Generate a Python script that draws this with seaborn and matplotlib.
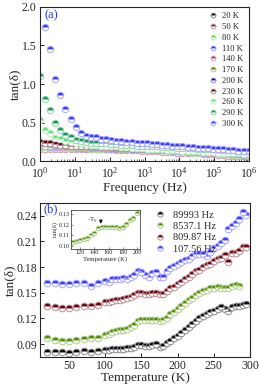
"""Dielectric loss tan(delta) vs frequency (a) and vs temperature (b)."""

import matplotlib

matplotlib.use("Agg")
import matplotlib.pyplot as plt
import matplotlib.colors as mcolors
from matplotlib.ticker import LogLocator, NullFormatter
import numpy as np
import seaborn as sns

# ---- panel (a): tan(delta) vs frequency at fixed temperatures ----
freq_hz = [1, 1.40, 1.96, 2.74, 3.84, 5.37, 7.52, 10.5, 14.7, 20.6, 28.8, 40.4,
           56.5, 79.1, 111, 155, 217, 303, 425, 594, 832, 1164, 1629, 2280,
           3192, 4467, 6252, 8750, 12246, 17140, 23988, 33574, 46989, 65766,
           92045, 128825, 180302, 252348, 353183, 494311, 691831, 968278]

temp_labels = ["20 K", "50 K", "80 K", "110 K", "140 K", "170 K",
               "200 K", "230 K", "260 K", "290 K", "300 K"]
temp_colors = ["#000000", "#8b1a2b", "#5fcf3f", "#2436e6", "#a0305a", "#4d7a00",
               "#0a0a9a", "#5a0010", "#66dd77", "#0f9a50", "#3a3aff"]

tan_20k = [0.17, 0.17, 0.17, 0.17, 0.17, 0.17, 0.17, 0.17, 0.17, 0.16, 0.16, 0.16,
           0.16, 0.16, 0.16, 0.15, 0.15, 0.15, 0.15, 0.15, 0.14, 0.14, 0.14, 0.14,
           0.13, 0.13, 0.13, 0.12, 0.12, 0.12, 0.11, 0.11, 0.10, 0.10, 0.10, 0.09,
           0.09, 0.08, 0.08, 0.08, 0.07, 0.07]
tan_50k = [0.16, 0.16, 0.16, 0.16, 0.16, 0.16, 0.16, 0.16, 0.16, 0.15, 0.15, 0.15,
           0.15, 0.15, 0.15, 0.14, 0.14, 0.14, 0.14, 0.14, 0.13, 0.13, 0.13, 0.13,
           0.12, 0.12, 0.12, 0.11, 0.11, 0.11, 0.10, 0.10, 0.09, 0.09, 0.09, 0.08,
           0.08, 0.07, 0.07, 0.07, 0.06, 0.06]
tan_80k = [0.18, 0.18, 0.17, 0.17, 0.17, 0.17, 0.17, 0.17, 0.17, 0.17, 0.16, 0.16,
           0.16, 0.16, 0.16, 0.16, 0.15, 0.15, 0.15, 0.15, 0.15, 0.14, 0.14, 0.14,
           0.14, 0.13, 0.13, 0.13, 0.12, 0.12, 0.11, 0.11, 0.11, 0.10, 0.10, 0.09,
           0.09, 0.09, 0.08, 0.08, 0.08, 0.07]
tan_110k = [0.19, 0.19, 0.18, 0.18, 0.18, 0.18, 0.18, 0.17, 0.17, 0.17, 0.17, 0.17,
            0.17, 0.16, 0.16, 0.16, 0.16, 0.16, 0.15, 0.15, 0.15, 0.15, 0.14, 0.14,
            0.14, 0.14, 0.13, 0.13, 0.13, 0.12, 0.12, 0.12, 0.11, 0.11, 0.10, 0.10,
            0.10, 0.09, 0.09, 0.09, 0.08, 0.08]
tan_140k = [0.20, 0.19, 0.19, 0.19, 0.18, 0.18, 0.18, 0.18, 0.18, 0.17, 0.17, 0.17,
            0.17, 0.17, 0.17, 0.16, 0.16, 0.16, 0.16, 0.16, 0.15, 0.15, 0.15, 0.15,
            0.14, 0.14, 0.14, 0.14, 0.13, 0.13, 0.13, 0.12, 0.12, 0.11, 0.11, 0.11,
            0.10, 0.10, 0.09, 0.09, 0.09, 0.08]
tan_170k = [0.21, 0.20, 0.20, 0.19, 0.19, 0.19, 0.18, 0.18, 0.18, 0.18, 0.18, 0.17,
            0.17, 0.17, 0.17, 0.17, 0.16, 0.16, 0.16, 0.16, 0.16, 0.15, 0.15, 0.15,
            0.15, 0.14, 0.14, 0.14, 0.14, 0.13, 0.13, 0.13, 0.12, 0.12, 0.12, 0.11,
            0.11, 0.10, 0.10, 0.10, 0.09, 0.09]
tan_200k = [0.23, 0.23, 0.22, 0.21, 0.21, 0.20, 0.20, 0.19, 0.19, 0.19, 0.18, 0.18,
            0.18, 0.18, 0.17, 0.17, 0.17, 0.17, 0.16, 0.16, 0.16, 0.16, 0.15, 0.15,
            0.15, 0.15, 0.14, 0.14, 0.14, 0.14, 0.13, 0.13, 0.13, 0.12, 0.12, 0.12,
            0.11, 0.11, 0.11, 0.10, 0.10, 0.09]
tan_230k = [0.25, 0.24, 0.23, 0.22, 0.21, 0.21, 0.20, 0.20, 0.20, 0.19, 0.19, 0.19,
            0.18, 0.18, 0.18, 0.18, 0.17, 0.17, 0.17, 0.17, 0.16, 0.16, 0.16, 0.16,
            0.15, 0.15, 0.15, 0.15, 0.14, 0.14, 0.14, 0.13, 0.13, 0.13, 0.12, 0.12,
            0.12, 0.11, 0.11, 0.11, 0.10, 0.10]
tan_260k = [0.53, 0.40, 0.36, 0.30, 0.28, 0.26, 0.25, 0.24, 0.23, 0.22, 0.21, 0.21,
            0.20, 0.20, 0.19, 0.19, 0.18, 0.18, 0.17, 0.17, 0.165, 0.16, 0.155, 0.15,
            0.15, 0.145, 0.14, 0.14, 0.135, 0.13, 0.13, 0.125, 0.12, 0.12, 0.115,
            0.11, 0.11, 0.105, 0.10, 0.10, 0.095, 0.09]
tan_290k = [1.10, 0.81, 0.66, 0.50, 0.40, 0.34, 0.31, 0.27, 0.26, 0.25, 0.24, 0.24,
            0.23, 0.23, 0.22, 0.22, 0.21, 0.21, 0.21, 0.20, 0.20, 0.195, 0.19, 0.19,
            0.185, 0.18, 0.18, 0.175, 0.17, 0.17, 0.165, 0.16, 0.16, 0.155, 0.15,
            0.15, 0.145, 0.14, 0.14, 0.135, 0.13, 0.13]
tan_300k = [2.30, 1.74, 1.46, 1.07, 0.86, 0.67, 0.54, 0.44, 0.37, 0.33, 0.31, 0.31,
            0.29, 0.28, 0.27, 0.26, 0.26, 0.25, 0.25, 0.24, 0.235, 0.23, 0.225, 0.22,
            0.21, 0.205, 0.20, 0.195, 0.19, 0.185, 0.18, 0.175, 0.17, 0.165, 0.16,
            0.155, 0.15, 0.145, 0.14, 0.135, 0.13, 0.125]

freq_series = [tan_20k, tan_50k, tan_80k, tan_110k, tan_140k, tan_170k,
               tan_200k, tan_230k, tan_260k, tan_290k, tan_300k]

# ---- panel (b): tan(delta) vs temperature at fixed frequencies ----
temp_k = [20, 30, 40, 50, 60, 70, 80, 90, 100, 105, 110, 115, 120, 125, 130, 135,
          140, 145, 150, 155, 160, 165, 170, 175, 180, 185, 190, 195, 200, 205,
          210, 215, 220, 225, 230, 235, 240, 245, 250, 255, 260, 265, 270, 275,
          280, 285, 290, 295]

freq_labels = ["89993 Hz", "8537.1 Hz", "809.87 Hz", "107.56 Hz"]
freq_colors = ["#000000", "#4d8f00", "#6a0010", "#3a3aff"]

tan_89993 = [0.081, 0.081, 0.081, 0.080, 0.081, 0.082, 0.081, 0.082, 0.083, 0.083,
             0.084, 0.084, 0.084, 0.084, 0.085, 0.086, 0.087, 0.089, 0.089, 0.088,
             0.088, 0.089, 0.090, 0.087, 0.088, 0.091, 0.094, 0.097, 0.100, 0.103,
             0.106, 0.110, 0.114, 0.117, 0.120, 0.123, 0.125, 0.127, 0.129, 0.131,
             0.133, 0.131, 0.129, 0.133, 0.134, 0.135, 0.136, 0.137]
tan_8537 = [0.097, 0.095, 0.094, 0.094, 0.095, 0.096, 0.097, 0.097, 0.101, 0.102,
            0.104, 0.105, 0.106, 0.107, 0.108, 0.110, 0.112, 0.117, 0.118, 0.118,
            0.118, 0.118, 0.118, 0.117, 0.118, 0.121, 0.125, 0.127, 0.131, 0.135,
            0.138, 0.141, 0.144, 0.147, 0.150, 0.152, 0.153, 0.155, 0.156, 0.157,
            0.156, 0.155, 0.156, 0.158, 0.159, 0.158, np.nan, np.nan]
tan_809 = [0.135, 0.133, 0.132, 0.132, 0.133, 0.134, 0.135, 0.136, 0.139, 0.139,
           0.140, 0.141, 0.142, 0.143, 0.144, 0.145, 0.147, 0.150, 0.150, 0.149,
           0.149, 0.150, 0.150, 0.149, 0.149, 0.152, 0.155, 0.157, 0.160, 0.163,
           0.166, 0.169, 0.172, 0.175, 0.177, 0.180, 0.182, 0.184, 0.187, 0.189,
           0.191, 0.194, 0.186, 0.196, 0.197, 0.199, 0.203, 0.203]
tan_107 = [0.161, 0.161, 0.160, 0.160, 0.161, 0.162, 0.158, 0.161, 0.164, 0.163,
           0.166, 0.166, 0.166, 0.167, 0.166, 0.168, 0.171, 0.176, 0.174, 0.171,
           0.169, 0.173, 0.174, 0.169, 0.168, 0.176, 0.179, 0.181, 0.184, 0.186,
           0.188, 0.190, 0.193, 0.195, 0.195, 0.195, 0.193, 0.198, 0.202, 0.205,
           0.208, 0.212, 0.225, 0.228, 0.232, 0.236, 0.244, 0.241]

temp_series = [tan_89993, tan_8537, tan_809, tan_107]


def light(color, amount=0.55):
    rgb = np.array(mcolors.to_rgb(color))
    return tuple(rgb + (1 - rgb) * amount)


def half_marker_kws(color, size):
    return dict(
        color=color,
        marker="o",
        linestyle="",
        markersize=size,
        fillstyle="top",
        markerfacecolor=color,
        markerfacecoloralt="white",
        markeredgecolor=light(color),
        markeredgewidth=0.7,
    )


sns.set_theme(style="ticks")
plt.rcParams["font.family"] = ["Liberation Serif", "DejaVu Serif"]
plt.rcParams["mathtext.fontset"] = "stix"
plt.rcParams["xtick.direction"] = "in"
plt.rcParams["ytick.direction"] = "in"

fig = plt.figure(figsize=(2.6, 3.88), dpi=100)
ax_a = fig.add_axes([0.154, 0.585, 0.804, 0.397])
ax_b = fig.add_axes([0.154, 0.080, 0.808, 0.397])

# panel (a)
ax_a.set_xscale("log")
for label, color, vals in zip(temp_labels, temp_colors, freq_series):
    sns.lineplot(x=freq_hz, y=vals, ax=ax_a, label=label, sort=False,
                 **half_marker_kws(color, 4.6))
ax_a.set_xlim(1, 1e6)
ax_a.set_ylim(0, 2.0)
ax_a.set_yticks([0.0, 0.5, 1.0, 1.5, 2.0])
ax_a.xaxis.set_major_locator(LogLocator(base=10, numticks=10))
ax_a.xaxis.set_minor_locator(LogLocator(base=10, subs=np.arange(2, 10), numticks=20))
ax_a.xaxis.set_minor_formatter(NullFormatter())
ax_a.set_xlabel("Frequency (Hz)", fontsize=9.5, labelpad=1)
ax_a.set_ylabel("tan(δ)", fontsize=9.5, labelpad=0.5)
ax_a.tick_params(labelsize=8.5, length=3, width=0.7, pad=2.5)
ax_a.tick_params(axis="x", pad=3.5)
ax_a.tick_params(which="minor", length=1.8, width=0.5)
ax_a.text(0.02, 0.985, "(a)", transform=ax_a.transAxes, color="#2436e6",
          fontsize=9, va="top", ha="left")
ax_a.legend(loc="upper right", frameon=False, fontsize=6.2, handlelength=1.0,
            handletextpad=0.6, labelspacing=0.32, borderaxespad=0.2,
            markerscale=0.75)

# panel (b)
for label, color, vals in zip(freq_labels, freq_colors, temp_series):
    sns.lineplot(x=temp_k, y=vals, ax=ax_b, label=label, sort=False,
                 **half_marker_kws(color, 4.8))
ax_b.set_xlim(10, 300)
ax_b.set_ylim(0.075, 0.255)
ax_b.set_xticks([50, 100, 150, 200, 250, 300])
ax_b.set_yticks([0.09, 0.12, 0.15, 0.18, 0.21, 0.24])
ax_b.set_xlabel("Temperature (K)", fontsize=9.5, labelpad=0.5)
ax_b.set_ylabel("tan(δ)", fontsize=9.5, labelpad=0.5)
ax_b.tick_params(labelsize=8.5, length=3, width=0.7, pad=2)
ax_b.text(0.015, 0.995, "(b)", transform=ax_b.transAxes, color="#2436e6",
          fontsize=9, va="top", ha="left")
ax_b.legend(loc="upper right", frameon=False, fontsize=7.5, handlelength=1.0,
            handletextpad=0.8, labelspacing=0.2, borderaxespad=0.3,
            markerscale=0.8, bbox_to_anchor=(0.875, 1.0))

# inset: zoom on the 8537.1 Hz curve around Tg
ax_in = fig.add_axes([0.273, 0.358, 0.265, 0.1])
sns.lineplot(x=temp_k, y=tan_8537, ax=ax_in, sort=False,
             **half_marker_kws(freq_colors[1], 3.2))
ax_in.set_xlim(107, 204)
ax_in.set_ylim(0.097, 0.134)
ax_in.set_xticks([120, 140, 160, 180, 200])
ax_in.set_yticks([0.10, 0.11, 0.12, 0.13])
ax_in.set_xlabel("Temperature (K)", fontsize=4.8, labelpad=0.5)
ax_in.set_ylabel("tan(δ)", fontsize=4.5, labelpad=0.5)
ax_in.tick_params(labelsize=4.5, length=1.5, width=0.4, pad=1)
for sp in ax_in.spines.values():
    sp.set_linewidth(0.5)
ax_in.annotate("", xy=(149, 0.1185), xytext=(149, 0.1262),
               arrowprops=dict(arrowstyle="-|>", color="black", lw=0.6,
                               mutation_scale=5))
ax_in.text(145, 0.1235, "-T$_g$", fontsize=5, ha="right", va="center")

for ax in (ax_a, ax_b):
    for sp in ax.spines.values():
        sp.set_linewidth(0.8)

fig.savefig("out.png", dpi=100)
